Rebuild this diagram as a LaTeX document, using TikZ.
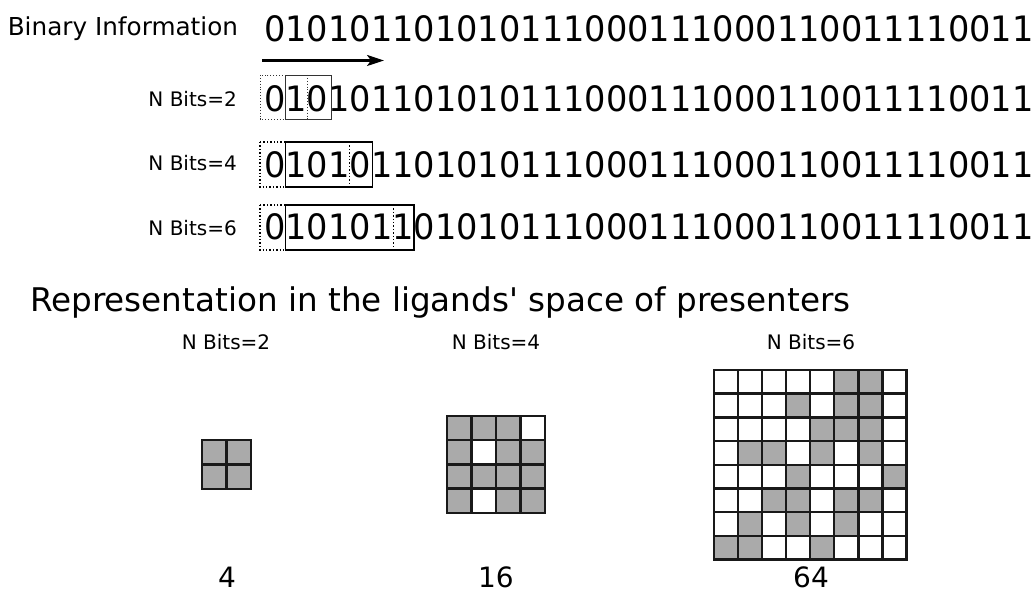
\documentclass[tikz,border=0pt]{standalone}
\usepackage{fontspec}
\setmainfont{DejaVu Sans}[Ligatures=TeXOff]
\newfontfamily\bitsfont[FakeStretch=0.96]{DejaVu Sans}
\usetikzlibrary{arrows.meta}
\definecolor{gridgray}{RGB}{170,170,170}
\definecolor{inkline}{RGB}{25,25,25}
\newcommand\lgrid[6]{%
  \foreach \rr/\rowvals in {#6} {
    \foreach \vv [count=\cc from 0] in \rowvals {
      \ifnum\vv=1 \fill[gridgray] ({#1+\cc*#3},{#2+\rr*#4}) rectangle ++(#3,#4); \fi
    }
  }
  \foreach \k in {0,...,#5} {
    \draw[gridline] ({#1+\k*#3},#2) -- ({#1+\k*#3},{#2+#5*#4});
    \draw[gridline] (#1,{#2+\k*#4}) -- ({#1+#5*#3},{#2+\k*#4});
  }
}
\begin{document}
\begin{tikzpicture}[x=1pt,y=-1pt,
  lbl/.style={inner sep=0pt, font=\fontsize{20}{24}\selectfont},
  bigtext/.style={inner sep=0pt, anchor=base west},
  bits/.style={inner sep=0pt, anchor=base west, font=\bitsfont\fontsize{35}{40}\selectfont},
  win/.style={draw=black, line width=1.4pt},
  ghost/.style={draw=black, line width=1.4pt, dotted},
  thinwin/.style={draw=black!80, line width=0.9pt},
  thinghost/.style={draw=black!80, line width=0.9pt, dotted},
  gridline/.style={draw=inkline, line width=2.4pt, line cap=rect},
  count/.style={inner sep=0pt, anchor=base, font=\fontsize{28}{32}\selectfont},
]
\useasboundingbox (0,0) rectangle (1036,593);

% top section
\node[bigtext, font=\fontsize{24.7}{30}\selectfont] (title) at (7.6,36) {Binary Information};
\node[bits] (b0) at (264,42) {010101101010111000111000110011110011};
\coordinate (a0) at (262,60.5);
\coordinate (a1) at (384,60.5);
\draw[line width=2.2pt,-{Stealth[length=17pt,width=11pt,inset=4pt]}] (a0) -- (a1);

\node[lbl, anchor=base east] (n2) at (237,107) {N Bits=2};
\node[lbl, anchor=base east] (n4) at (237,171) {N Bits=4};
\node[lbl, anchor=base east] (n6) at (237,236) {N Bits=6};

\node[bits] (b1) at (264,111.5) {010101101010111000111000110011110011};
\node[bits] (b2) at (264,178) {010101101010111000111000110011110011};
\node[bits] (b3) at (264,240) {010101101010111000111000110011110011};

% windows row 1
\draw[thinghost] (260,75) rectangle (285.4,119);
\draw[thinwin] (285.4,75) rectangle (331,119);
\draw[thinghost] (307,75) -- (307,119);
% windows row 2
\draw[ghost] (260,142) rectangle (285.4,187);
\draw[win] (285.4,142) rectangle (372.5,187);
\draw[ghost] (349.5,142) -- (349.5,187);
% windows row 3
\draw[ghost] (260,205) rectangle (285.4,250);
\draw[win] (285.4,205) rectangle (414,250);
\draw[ghost] (393.5,205) -- (393.5,250);

% bottom section
\node[bigtext, font=\fontsize{32.6}{38}\selectfont] (rep) at (30,311.5) {Representation in the ligands' space of presenters};

\node[lbl, anchor=base] (g2) at (226,350) {N Bits=2};
\node[lbl, anchor=base] (g4) at (496,350) {N Bits=4};
\node[lbl, anchor=base] (g6) at (811,350) {N Bits=6};

\lgrid{202}{440}{24.5}{24.5}{2}{0/{1,1},1/{1,1}}
\lgrid{447}{416}{24.5}{24.2}{4}{0/{1,1,1,0},1/{1,0,1,1},2/{1,1,1,1},3/{1,0,1,1}}
\lgrid{714}{370}{24.05}{23.7}{8}{0/{0,0,0,0,0,1,1,0},1/{0,0,0,1,0,1,1,0},2/{0,0,0,0,1,1,1,0},3/{0,1,1,0,1,0,1,0},4/{0,0,0,1,0,0,0,1},5/{0,0,1,1,0,1,1,0},6/{0,1,0,1,0,1,0,0},7/{1,1,0,0,1,0,0,0}}

\node[count] (c4) at (227,587) {4};
\node[count] (c16) at (496,587) {16};
\node[count] (c64) at (811,587) {64};
\end{tikzpicture}
\end{document}
